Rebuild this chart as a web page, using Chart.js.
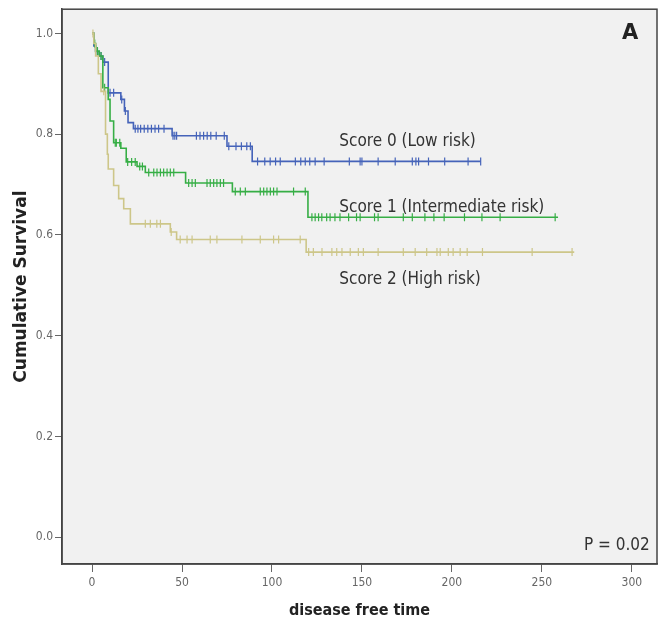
<!DOCTYPE html>
<html>
<head>
<meta charset="utf-8">
<script src="https://cdn.jsdelivr.net/npm/chart.js@4/dist/chart.umd.min.js"></script>
<style>
  html, body { margin: 0; padding: 0; background: #fff; }
  #wrap { width: 658px; height: 630px; }
</style>
</head>
<body>
<div id="wrap"><canvas id="kmChart" width="658" height="630"></canvas></div>
<script>
// Kaplan-Meier: disease free time by risk score
const xTicks = [0, 50, 100, 150, 200, 250, 300];
const yTicks = [0.0, 0.2, 0.4, 0.6, 0.8, 1.0];

// step times / survival after the step
const lowTimes = [0, 1, 2, 4, 6, 9, 16, 18, 20, 23, 44.5, 75, 89, 216];
const lowSurv = [1.0, 0.975, 0.964, 0.955, 0.943, 0.882, 0.869, 0.846, 0.823, 0.811, 0.797, 0.776, 0.746, 0.746];
const lowCensor = [2, 3, 5, 7, 10, 12, 16.5, 18.5, 24, 25.5, 27, 29, 31, 33, 35, 37, 40, 45, 46, 47, 58, 60, 62, 64, 66, 69, 73.5,
  76, 80, 83, 86, 88, 92, 96, 99, 102, 104.6, 113, 116, 118.5, 121, 124, 129, 143, 149, 150, 159, 168.5, 178, 180, 181.5, 187, 196, 209, 216];

const midTimes = [0, 1, 2, 4, 6, 9, 10, 12, 16, 19, 25, 29.6, 52, 78, 120, 259];
const midSurv = [1.0, 0.98, 0.965, 0.955, 0.892, 0.869, 0.826, 0.783, 0.772, 0.745, 0.736, 0.724, 0.703, 0.686, 0.635, 0.635];
const midCensor = [1.5, 3, 5, 7, 12.9, 13.5, 15.4, 19.8, 22, 24, 26.5, 28, 31.5, 34.3, 36.1, 38, 39.8, 41.7, 43.5, 45.4,
  53.7, 55.6, 57.4, 63.9, 65.7, 67.6, 69.4, 71.3, 73.1, 79.6, 82.4, 85.2, 93.5, 95.4, 97.2, 99.1, 100.9, 102.8, 112, 118.5,
  122.2, 124, 125.9, 127.7, 130.4, 132.3, 135, 137.8, 142.6, 147, 149, 157, 159, 173, 178, 185, 190, 195.7, 207, 216.7, 226.8, 257.4];

const highTimes = [0, 1, 2, 3.5, 5, 7.5, 8.5, 9, 12, 14.8, 17.6, 21.3, 43.5, 47, 119, 268];
const highSurv = [1.0, 0.98, 0.955, 0.92, 0.885, 0.80, 0.76, 0.731, 0.698, 0.672, 0.652, 0.622, 0.606, 0.591, 0.566, 0.566];
const highCensor = [0.5, 6.5, 29.6, 32.4, 36, 38, 44, 49, 52.8, 55.6, 65.7, 69.4, 83.3, 93.5, 100.9, 103.7, 115.7,
  120.4, 123, 127.8, 133.3, 136, 138.9, 143.5, 148, 150.8, 159, 173, 179.6, 186, 191.7, 193.5, 198, 200.7, 204.6, 208.5, 217, 244.6, 266.8];

const groupLabels = ["Score 0 (Low risk)", "Score 1 (Intermediate risk)", "Score 2 (High risk)"];
const colors = ["#4563b9", "#36ae45", "#cdc689"];

function steps(times, surv) {
  return times.map((t, i) => ({ x: t, y: surv[i] }));
}
function survAt(times, surv, t) {
  let s = surv[0];
  for (let i = 0; i < times.length; i++) if (times[i] <= t) s = surv[i];
  return s;
}
function marks(times, surv, cens) {
  return cens.map(t => ({ x: t, y: survAt(times, surv, t) }));
}

const groups = [
  [lowTimes, lowSurv, lowCensor],
  [midTimes, midSurv, midCensor],
  [highTimes, highSurv, highCensor],
];

const datasets = [];
// draw high risk first so the others sit on top
[2, 1, 0].forEach(g => {
  const [t, s, c] = groups[g];
  datasets.push({
    label: groupLabels[g],
    data: steps(t, s),
    borderColor: colors[g],
    borderWidth: 1.6,
    stepped: "before",
    pointRadius: 0,
    fill: false,
  });
  datasets.push({
    label: groupLabels[g] + " censored",
    data: marks(t, s, c),
    showLine: false,
    pointStyle: "line",
    rotation: 90,
    pointRadius: 4,
    borderColor: colors[g],
    borderWidth: 1.2,
  });
});

const plotBox = {
  id: "plotBox",
  beforeDraw(chart) {
    const { ctx, chartArea: a } = chart;
    ctx.save();
    ctx.fillStyle = "#f1f1f1";
    ctx.fillRect(a.left, a.top, a.right - a.left, a.bottom - a.top);
    ctx.restore();
  },
  afterDraw(chart) {
    const { ctx, chartArea: a, scales } = chart;
    ctx.save();
    ctx.strokeStyle = "#444";
    ctx.lineWidth = 1.5;
    ctx.strokeRect(a.left, a.top, a.right - a.left, a.bottom - a.top);

    const x = scales.x, y = scales.y;
    ctx.fillStyle = "#333";
    ctx.font = "17px 'DejaVu Sans Condensed', 'DejaVu Sans', sans-serif";
    ctx.textBaseline = "middle";
    ctx.textAlign = "left";
    ctx.fillText(groupLabels[0], x.getPixelForValue(137.4), y.getPixelForValue(0.785));
    ctx.fillText(groupLabels[1], x.getPixelForValue(137.4), y.getPixelForValue(0.655));
    ctx.fillText(groupLabels[2], x.getPixelForValue(137.4), y.getPixelForValue(0.511));

    ctx.textAlign = "right";
    ctx.fillText("P = 0.02", x.getPixelForValue(310), y.getPixelForValue(-0.016));

    ctx.textAlign = "center";
    ctx.font = "bold 21px 'DejaVu Sans', sans-serif";
    ctx.fillStyle = "#222";
    ctx.fillText("A", x.getPixelForValue(299), y.getPixelForValue(1.0));
    ctx.restore();
  },
};

const ctx = document.getElementById("kmChart").getContext("2d");
new Chart(ctx, {
  type: "line",
  data: { datasets },
  plugins: [plotBox],
  options: {
    responsive: false,
    animation: false,
    layout: { autoPadding: false, padding: { top: 6, right: 1, left: 0, bottom: 0 } },
    plugins: { legend: { display: false }, tooltip: { enabled: false } },
    scales: {
      x: {
        type: "linear",
        min: -16.7,
        max: 314,
        afterFit: s => { s.height = 66; },
        afterBuildTicks: s => { s.ticks = xTicks.map(v => ({ value: v })); },
        grid: { drawOnChartArea: false, drawTicks: true, tickLength: 8, color: "#666" },
        border: { display: true, color: "#444", width: 1.5 },
        ticks: {
          color: "#666",
          padding: 4,
          maxRotation: 0,
          font: { family: "'DejaVu Sans Condensed', 'DejaVu Sans', sans-serif", size: 12 },
        },
        title: {
          display: true,
          text: "disease free time",
          color: "#222",
          padding: { top: 0, bottom: 10 },
          font: { family: "'DejaVu Sans Condensed', 'DejaVu Sans', sans-serif", size: 16, weight: "bold" },
        },
      },
      y: {
        type: "linear",
        min: -0.053,
        max: 1.048,
        afterFit: s => { s.width = 62; },
        afterBuildTicks: s => { s.ticks = yTicks.map(v => ({ value: v })); },
        grid: { drawOnChartArea: false, drawTicks: true, tickLength: 7, color: "#666" },
        border: { display: true, color: "#444", width: 1.5 },
        ticks: {
          color: "#666",
          padding: 2,
          callback: v => v.toFixed(1),
          font: { family: "'DejaVu Sans Condensed', 'DejaVu Sans', sans-serif", size: 12 },
        },
        title: {
          display: true,
          text: "Cumulative Survival",
          color: "#222",
          padding: { top: 11, bottom: 0 },
          font: { family: "'DejaVu Sans', sans-serif", size: 17, weight: "bold" },
        },
      },
    },
  },
});
</script>
</body>
</html>
